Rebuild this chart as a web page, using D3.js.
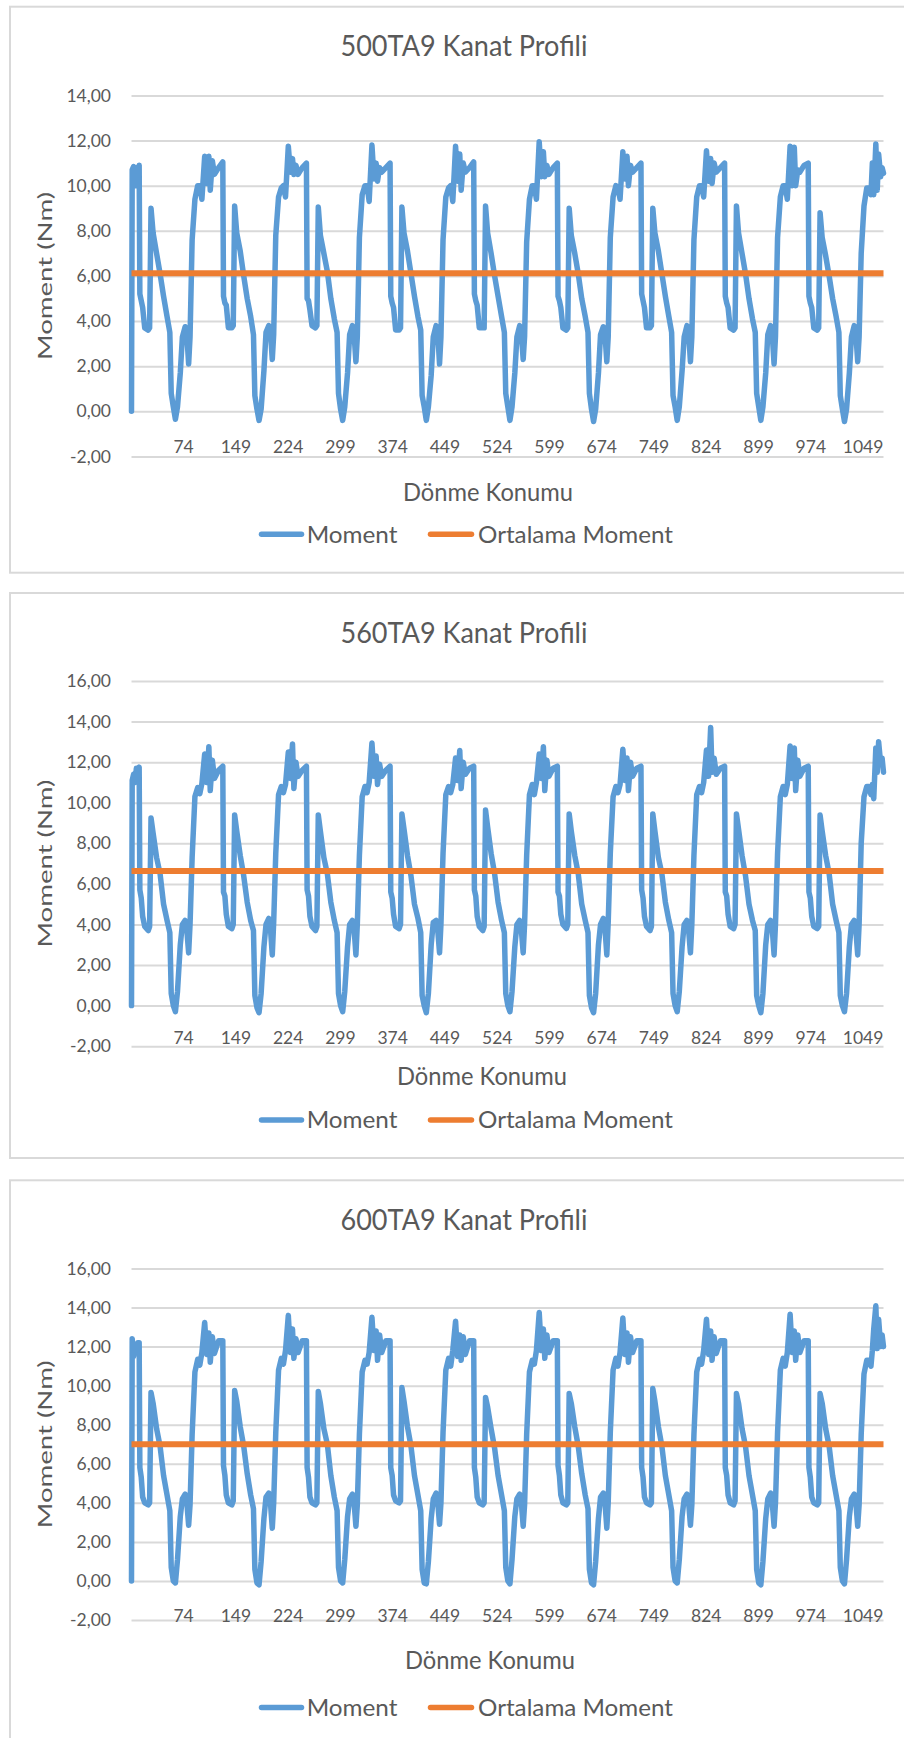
<!DOCTYPE html>
<html>
<head>
<meta charset="utf-8">
<script src="https://cdnjs.cloudflare.com/ajax/libs/d3/7.8.5/d3.min.js"></script>
<style>
  body { margin: 0; background: #fff; }
  svg text { font-family: Lato, "Open Sans", sans-serif; fill: #595959; }
</style>
</head>
<body>
<div id="charts"></div>
<script>
const X_POS = [
  0, 1, 3, 5, 7, 9,
  11, 12, 14, 16, 19, 24, 26, 28, 31, 36, 41, 46, 51, 55, 57, 60, 63, 66, 70, 73, 77, 79, 82, 84, 87, 91, 95, 98, 101, 105, 108, 111, 113, 116, 119, 125,
  131, 132, 134, 136, 139, 144, 146, 148, 151, 156, 161, 166, 171, 175, 177, 180, 183, 186, 190, 193, 197, 199, 202, 204, 207, 211, 215, 218, 221, 225, 228, 231, 233, 236, 239, 245,
  251, 252, 254, 256, 259, 264, 266, 268, 271, 276, 281, 286, 291, 295, 297, 300, 303, 306, 310, 313, 317, 319, 322, 324, 327, 331, 335, 338, 341, 345, 348, 351, 353, 356, 359, 365,
  371, 372, 374, 376, 379, 384, 386, 388, 391, 396, 401, 406, 411, 415, 417, 420, 423, 426, 430, 433, 437, 439, 442, 444, 447, 451, 455, 458, 461, 465, 468, 471, 473, 476, 479, 485,
  491, 492, 494, 496, 499, 504, 506, 508, 511, 516, 521, 526, 531, 535, 537, 540, 543, 546, 550, 553, 557, 559, 562, 564, 567, 571, 575, 578, 581, 585, 588, 591, 593, 596, 599, 605,
  611, 612, 614, 616, 619, 624, 626, 628, 631, 636, 641, 646, 651, 655, 657, 660, 663, 666, 670, 673, 677, 679, 682, 684, 687, 691, 695, 698, 701, 705, 708, 711, 713, 716, 719, 725,
  731, 732, 734, 736, 739, 744, 746, 748, 751, 756, 761, 766, 771, 775, 777, 780, 783, 786, 790, 793, 797, 799, 802, 804, 807, 811, 815, 818, 821, 825, 828, 831, 833, 836, 839, 845,
  851, 852, 854, 856, 859, 864, 866, 868, 871, 876, 881, 886, 891, 895, 897, 900, 903, 906, 910, 913, 917, 919, 922, 924, 927, 931, 935, 938, 941, 945, 948, 951, 953, 956, 959, 965,
  971, 972, 974, 976, 979, 984, 986, 988, 991, 996, 1001, 1006, 1011, 1015, 1017, 1020, 1023, 1026, 1030, 1033, 1037, 1039, 1042, 1044, 1047, 1051, 1055, 1058, 1061, 1063, 1065, 1068, 1070, 1072, 1075, 1077, 1079
];

const MOMENT_500 = [
  0, 10.7, 10.85, 10.0, 10.8, 10.0,
  10.9, 5.2, 4.9, 4.6, 3.7, 3.6, 3.7, 9.0, 7.9, 7.0, 6.1, 5.1, 4.2, 3.5, 0.8, 0.2, -0.35, 0.2, 1.7, 3.3, 3.75, 3.6, 2.1, 3.3, 7.6, 9.4, 10.0, 10.0, 9.4, 11.3, 10.1, 11.3, 9.8, 11.1, 10.5, 10.8,
  11.05, 5.1, 4.8, 4.7, 3.7, 3.7, 3.8, 9.1, 7.9, 7.1, 6.0, 5.0, 4.2, 3.4, 0.7, 0.1, -0.4, 0.1, 1.8, 3.5, 3.8, 3.7, 2.3, 3.4, 7.8, 9.5, 9.9, 10.0, 9.5, 11.75, 10.6, 11.2, 10.5, 10.9, 10.5, 10.8,
  11.0, 5.0, 4.9, 4.5, 3.8, 3.7, 3.8, 9.05, 7.8, 7.0, 6.2, 5.0, 4.1, 3.5, 0.8, 0.1, -0.4, 0.2, 1.7, 3.4, 3.8, 3.6, 2.2, 3.3, 7.7, 9.6, 10.0, 10.0, 9.3, 11.8, 10.3, 11.0, 10.2, 10.8, 10.6, 10.8,
  11.0, 5.1, 4.8, 4.6, 3.6, 3.6, 3.7, 9.05, 7.9, 7.1, 6.1, 5.1, 4.2, 3.6, 0.7, 0.2, -0.4, 0.2, 1.6, 3.3, 3.8, 3.7, 2.1, 3.3, 7.6, 9.5, 9.9, 10.0, 9.3, 11.75, 10.2, 11.4, 9.8, 11.0, 10.6, 10.8,
  11.05, 5.2, 4.9, 4.7, 3.7, 3.7, 3.7, 9.1, 7.9, 7.0, 6.0, 5.1, 4.2, 3.5, 0.8, 0.2, -0.4, 0.2, 1.7, 3.3, 3.8, 3.6, 2.3, 3.3, 7.5, 9.4, 10.0, 10.0, 9.4, 11.95, 10.4, 11.5, 10.4, 10.9, 10.5, 10.8,
  11.0, 5.1, 4.9, 4.6, 3.7, 3.6, 3.7, 9.0, 7.8, 7.0, 6.1, 5.0, 4.2, 3.5, 0.8, 0.1, -0.45, 0.1, 1.7, 3.4, 3.75, 3.6, 2.2, 3.3, 7.7, 9.5, 10.0, 9.9, 9.4, 11.5, 10.3, 11.3, 10.0, 10.9, 10.6, 10.8,
  11.0, 5.2, 4.9, 4.6, 3.7, 3.7, 3.8, 9.0, 7.9, 7.1, 6.1, 5.1, 4.2, 3.5, 0.7, 0.2, -0.4, 0.2, 1.8, 3.3, 3.8, 3.7, 2.2, 3.3, 7.6, 9.5, 10.0, 10.0, 9.5, 11.55, 10.2, 11.2, 10.1, 11.0, 10.6, 10.8,
  11.0, 5.1, 4.8, 4.6, 3.7, 3.6, 3.7, 9.1, 7.9, 7.0, 6.1, 5.0, 4.1, 3.5, 0.8, 0.2, -0.4, 0.2, 1.7, 3.4, 3.8, 3.6, 2.1, 3.3, 7.7, 9.5, 10.0, 10.0, 9.4, 11.75, 10.0, 11.7, 10.0, 10.7, 10.6, 10.9,
  11.0, 5.1, 4.8, 4.6, 3.7, 3.6, 3.7, 8.8, 7.7, 6.9, 6.0, 5.0, 4.2, 3.5, 0.7, 0.1, -0.45, 0.1, 1.7, 3.3, 3.8, 3.6, 2.2, 3.3, 7.0, 9.1, 9.9, 9.9, 9.6, 11.0, 9.6, 11.85, 9.8, 11.4, 10.4, 10.8, 10.55
];

const MOMENT_560 = [
  0, 11.1, 11.4, 11.0, 11.7, 11.6,
  11.75, 5.7, 5.3, 4.4, 3.9, 3.7, 3.9, 9.25, 8.5, 7.3, 6.5, 5.0, 4.2, 3.6, 0.6, 0.0, -0.3, 0.7, 3.0, 4.0, 4.2, 3.9, 2.6, 4.0, 7.3, 10.3, 10.75, 10.45, 10.95, 12.4, 11.0, 12.76, 10.6, 12.1, 11.2, 11.6,
  11.8, 5.6, 5.4, 4.5, 3.9, 3.8, 4.0, 9.4, 8.6, 7.4, 6.4, 5.1, 4.2, 3.7, 0.5, -0.1, -0.35, 0.6, 2.9, 4.0, 4.3, 4.0, 2.5, 4.1, 7.5, 10.4, 10.8, 10.5, 10.9, 12.5, 11.2, 12.9, 10.7, 12.0, 11.3, 11.6,
  11.8, 5.7, 5.4, 4.4, 3.9, 3.7, 3.9, 9.4, 8.6, 7.3, 6.5, 5.1, 4.2, 3.6, 0.6, 0.0, -0.3, 0.7, 2.9, 4.0, 4.2, 4.0, 2.5, 4.0, 7.4, 10.3, 10.8, 10.5, 11.0, 12.95, 11.3, 12.3, 10.9, 11.9, 11.3, 11.6,
  11.8, 5.6, 5.3, 4.5, 3.9, 3.8, 4.0, 9.45, 8.7, 7.4, 6.4, 5.0, 4.3, 3.6, 0.5, 0.0, -0.35, 0.6, 3.0, 4.1, 4.2, 3.9, 2.6, 4.0, 7.5, 10.4, 10.8, 10.5, 10.9, 12.2, 11.1, 12.58, 10.7, 12.0, 11.4, 11.7,
  11.8, 5.7, 5.4, 4.4, 3.9, 3.7, 3.9, 9.64, 8.8, 7.5, 6.5, 5.1, 4.2, 3.6, 0.6, 0.0, -0.3, 0.7, 2.9, 4.0, 4.2, 3.9, 2.6, 4.0, 7.4, 10.4, 10.9, 10.4, 11.0, 12.4, 11.2, 12.76, 10.6, 12.1, 11.3, 11.7,
  11.8, 5.6, 5.4, 4.5, 4.0, 3.8, 4.0, 9.45, 8.6, 7.4, 6.5, 5.0, 4.2, 3.6, 0.5, -0.1, -0.35, 0.6, 3.0, 4.0, 4.3, 4.0, 2.5, 4.1, 7.5, 10.3, 10.8, 10.5, 10.9, 12.64, 11.1, 12.2, 10.6, 12.0, 11.3, 11.7,
  11.8, 5.7, 5.3, 4.4, 3.9, 3.7, 3.9, 9.45, 8.6, 7.3, 6.5, 5.1, 4.2, 3.6, 0.6, 0.0, -0.3, 0.7, 2.9, 4.0, 4.2, 3.9, 2.6, 4.0, 7.4, 10.4, 10.8, 10.5, 11.0, 12.6, 11.3, 13.71, 11.5, 12.2, 11.4, 11.7,
  11.8, 5.6, 5.4, 4.5, 3.9, 3.8, 4.0, 9.45, 8.7, 7.4, 6.4, 5.0, 4.2, 3.7, 0.5, 0.0, -0.35, 0.6, 3.0, 4.0, 4.2, 4.0, 2.5, 4.0, 7.5, 10.3, 10.8, 10.4, 10.9, 12.8, 11.2, 12.7, 10.6, 12.1, 11.3, 11.7,
  11.8, 5.6, 5.3, 4.4, 3.9, 3.8, 3.9, 9.39, 8.6, 7.4, 6.5, 5.0, 4.2, 3.6, 0.5, 0.0, -0.3, 0.6, 2.9, 4.0, 4.2, 3.9, 2.5, 4.0, 8.0, 10.3, 10.8, 10.8, 10.4, 10.9, 10.2, 12.7, 11.5, 13.0, 11.9, 12.2, 11.5
];

const MOMENT_600 = [
  0, 12.4, 11.5, 12.1, 11.9, 12.2,
  12.2, 5.8, 5.3, 4.3, 4.0, 3.9, 4.0, 9.65, 9.1, 7.8, 6.9, 5.4, 4.4, 3.6, 0.7, 0.0, -0.1, 1.1, 3.3, 4.2, 4.45, 4.2, 2.85, 3.9, 7.5, 10.7, 11.35, 11.05, 11.7, 13.24, 11.6, 12.7, 11.2, 12.5, 11.65, 12.3,
  12.3, 5.9, 5.4, 4.4, 4.0, 3.9, 4.1, 9.75, 9.2, 7.9, 6.9, 5.5, 4.4, 3.7, 0.6, -0.1, -0.2, 1.0, 3.2, 4.3, 4.5, 4.2, 2.7, 4.0, 7.6, 10.8, 11.4, 11.1, 11.8, 13.6, 11.7, 12.9, 11.4, 12.4, 11.7, 12.3,
  12.3, 5.8, 5.3, 4.3, 4.0, 3.9, 4.0, 9.7, 9.1, 7.8, 7.0, 5.4, 4.3, 3.6, 0.7, 0.0, -0.1, 1.1, 3.3, 4.2, 4.45, 4.2, 2.8, 3.9, 7.5, 10.7, 11.3, 11.1, 11.7, 13.5, 11.8, 12.8, 11.3, 12.6, 11.7, 12.3,
  12.3, 5.8, 5.4, 4.4, 4.1, 4.0, 4.1, 9.9, 9.2, 7.9, 6.9, 5.4, 4.4, 3.6, 0.6, -0.1, -0.15, 1.0, 3.2, 4.2, 4.5, 4.2, 2.9, 4.0, 7.6, 10.8, 11.4, 11.0, 11.8, 13.3, 11.5, 12.6, 11.3, 12.5, 11.6, 12.3,
  12.3, 5.8, 5.3, 4.3, 4.0, 3.9, 4.0, 9.4, 8.9, 7.8, 6.8, 5.4, 4.4, 3.6, 0.7, 0.0, -0.15, 1.1, 3.3, 4.2, 4.45, 4.2, 2.8, 3.9, 7.5, 10.7, 11.3, 11.1, 11.8, 13.75, 11.8, 12.9, 11.4, 12.6, 11.7, 12.3,
  12.3, 5.9, 5.4, 4.4, 4.0, 3.9, 4.0, 9.6, 9.1, 7.9, 6.9, 5.5, 4.4, 3.7, 0.6, -0.1, -0.2, 1.0, 3.2, 4.3, 4.5, 4.2, 2.7, 4.0, 7.6, 10.8, 11.4, 11.0, 11.7, 13.47, 11.6, 12.7, 11.2, 12.5, 11.7, 12.3,
  12.3, 5.8, 5.3, 4.3, 4.0, 3.9, 4.0, 9.85, 9.2, 7.9, 6.9, 5.4, 4.4, 3.6, 0.7, 0.0, -0.1, 1.1, 3.3, 4.2, 4.45, 4.2, 2.85, 3.9, 7.5, 10.7, 11.35, 11.1, 11.8, 13.4, 11.6, 12.8, 11.3, 12.5, 11.65, 12.3,
  12.3, 5.8, 5.4, 4.4, 4.0, 3.9, 4.1, 9.6, 9.1, 7.8, 6.9, 5.4, 4.4, 3.6, 0.6, -0.1, -0.2, 1.0, 3.2, 4.2, 4.5, 4.2, 2.8, 4.0, 7.6, 10.8, 11.4, 11.0, 11.7, 13.66, 11.7, 12.8, 11.3, 12.6, 11.7, 12.3,
  12.3, 5.8, 5.3, 4.3, 4.0, 3.9, 4.0, 9.6, 9.1, 7.8, 6.9, 5.4, 4.4, 3.6, 0.7, 0.0, -0.15, 1.1, 3.3, 4.2, 4.45, 4.2, 2.8, 3.9, 7.5, 10.6, 11.3, 11.3, 11.0, 11.8, 12.9, 14.09, 11.9, 13.4, 12.0, 12.6, 12.0
];

// "Ortalama Moment" (mean) of each profile
const AVG_500 = 6.12;
const AVG_560 = 6.64;
const AVG_600 = 7.0;

const X_TICKS = [74, 149, 224, 299, 374, 449, 524, 599, 674, 749, 824, 899, 974, 1049];
const Y_TICKS_14 = [-2, 0, 2, 4, 6, 8, 10, 12, 14];
const Y_TICKS_16 = [-2, 0, 2, 4, 6, 8, 10, 12, 14, 16];
const LEGEND = ['Moment', 'Ortalama Moment'];
const COLORS = ['#5B9BD5', '#ED7D31'];

// layout of the three stacked panels (pixel positions)
var panels = [
  {title: '500TA9 Kanat Profili', values: MOMENT_500, avg: AVG_500, yTicks: Y_TICKS_14,
   boxTop: 6.7, boxH: 566, titleY: 56, plotTop: 95.4, plotBottom: 456.5,
   xLabelY: 447.3, xTitleX: 488, xTitleY: 501.3, legendY: 534.3},
  {title: '560TA9 Kanat Profili', values: MOMENT_560, avg: AVG_560, yTicks: Y_TICKS_16,
   boxTop: 593, boxH: 565, titleY: 643, plotTop: 681, plotBottom: 1046.2,
   xLabelY: 1037.6, xTitleX: 482, xTitleY: 1085, legendY: 1120},
  {title: '600TA9 Kanat Profili', values: MOMENT_600, avg: AVG_600, yTicks: Y_TICKS_16,
   boxTop: 1180.3, boxH: 600, titleY: 1230, plotTop: 1268.5, plotBottom: 1620,
   xLabelY: 1616, xTitleX: 490, xTitleY: 1668.7, legendY: 1707.4}
];

var plotLeft = 131.5, plotRight = 883.5;
var fmt = d => d.toFixed(2).replace('.', ',');

var svg = d3.select('#charts')
            .append('svg')
            .attr('width', 904)
            .attr('height', 1738)
            .style('display', 'block');

var x = d3.scaleLinear()
          .domain([0, 1079])
          .range([plotLeft, plotRight]);

panels.forEach(p => drawPanel(p));

function drawPanel(p) {
  var g = svg.append('g');

  // outer frame (right side runs off the page)
  g.append('rect')
    .attr('x', 10).attr('y', p.boxTop)
    .attr('width', 920).attr('height', p.boxH)
    .attr('fill', 'none')
    .attr('stroke', '#d9d9d9')
    .attr('stroke-width', 2);

  g.append('text')
    .attr('x', 464).attr('y', p.titleY)
    .attr('text-anchor', 'middle')
    .attr('font-size', 28)
    .attr('textLength', 247)
    .attr('lengthAdjust', 'spacingAndGlyphs')
    .text(p.title);

  var y = d3.scaleLinear()
            .domain([p.yTicks[0], p.yTicks[p.yTicks.length - 1]])
            .range([p.plotBottom, p.plotTop]);

  // gridlines + value labels
  g.append('g')
    .attr('transform', 'translate(' + plotLeft + ',0)')
    .call(d3.axisLeft(y).tickValues(p.yTicks).tickSize(-(plotRight - plotLeft)).tickPadding(20.5).tickFormat(fmt))
    .call(a => a.select('.domain').remove())
    .call(a => a.selectAll('line').attr('stroke', '#d9d9d9').attr('stroke-width', 2))
    .attr('font-size', 17.5)
    .attr('font-family', null);

  // category labels
  g.append('g')
    .attr('transform', 'translate(0,' + (p.xLabelY - 6.3) + ')')
    .call(d3.axisBottom(x).tickValues(X_TICKS).tickSize(0).tickPadding(0).tickFormat(d => String(d)))
    .call(a => a.select('.domain').remove())
    .attr('font-size', 17.5)
    .attr('font-family', null);

  // axis titles
  g.append('text')
    .attr('transform', 'translate(52,' + ((p.plotTop + p.plotBottom) / 2) + ') rotate(-90)')
    .attr('text-anchor', 'middle')
    .attr('font-size', 20)
    .attr('textLength', 168)
    .attr('lengthAdjust', 'spacingAndGlyphs')
    .text('Moment (Nm)');

  g.append('text')
    .attr('x', p.xTitleX).attr('y', p.xTitleY)
    .attr('text-anchor', 'middle')
    .attr('font-size', 25)
    .attr('textLength', 170)
    .attr('lengthAdjust', 'spacingAndGlyphs')
    .text('Dönme Konumu');

  // Moment series
  var line = d3.line()
               .x((d, i) => x(X_POS[i]))
               .y(d => y(d));

  g.append('path')
    .datum(p.values)
    .attr('d', line)
    .attr('fill', 'none')
    .attr('stroke', COLORS[0])
    .attr('stroke-width', 5.5)
    .attr('stroke-linejoin', 'round')
    .attr('stroke-linecap', 'round');

  // mean line
  g.append('path')
    .datum([0, 1079])
    .attr('d', d3.line().x(d => x(d)).y(() => y(p.avg)))
    .attr('fill', 'none')
    .attr('stroke', COLORS[1])
    .attr('stroke-width', 6);

  // legend
  var legendItems = [
    {name: LEGEND[0], x1: 261.5, x2: 301.5, tx: 306.7, w: 90.7},
    {name: LEGEND[1], x1: 430.5, x2: 471.5, tx: 478, w: 195}
  ];
  legendItems.forEach((d, i) => {
    g.append('line')
      .attr('x1', d.x1).attr('x2', d.x2)
      .attr('y1', p.legendY).attr('y2', p.legendY)
      .attr('stroke', COLORS[i])
      .attr('stroke-width', 5.5)
      .attr('stroke-linecap', 'round');
    g.append('text')
      .attr('x', d.tx).attr('y', p.legendY + 8.4)
      .attr('font-size', 23)
      .attr('textLength', d.w)
      .attr('lengthAdjust', 'spacingAndGlyphs')
      .text(d.name);
  });
}
</script>
</body>
</html>
